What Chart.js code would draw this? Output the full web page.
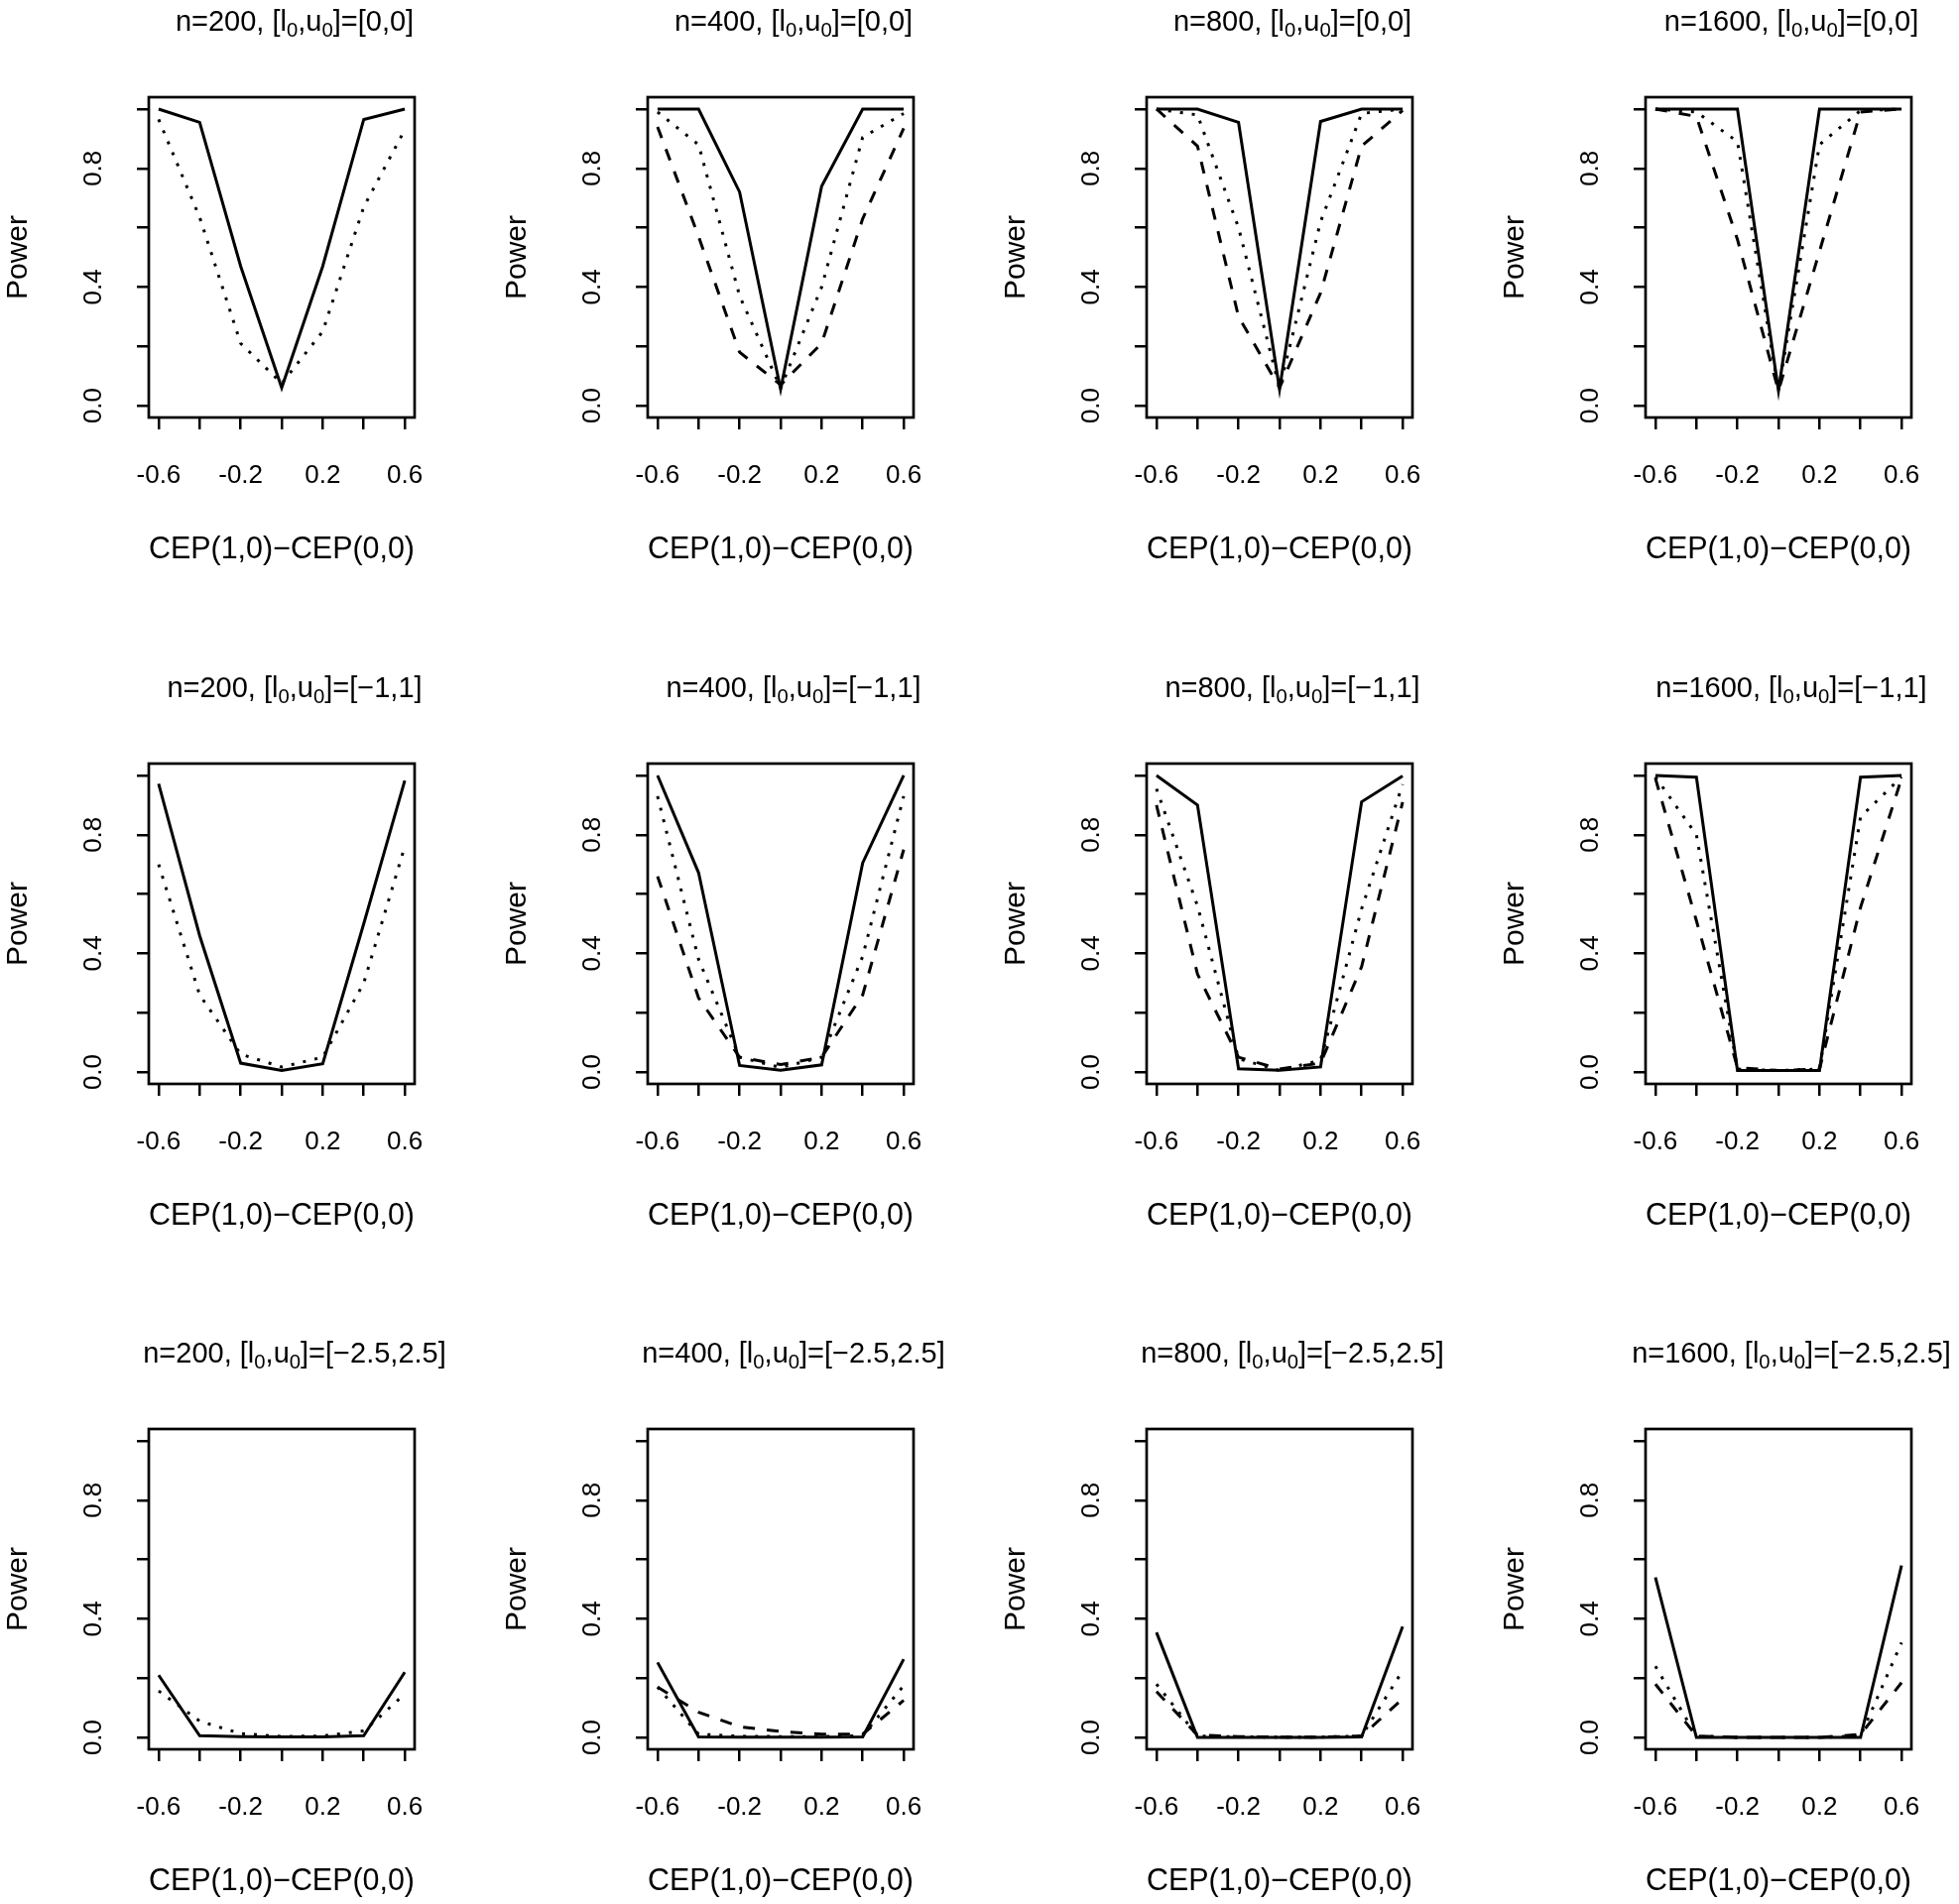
<!DOCTYPE html>
<html>
<head>
<meta charset="utf-8">
<script src="https://cdn.jsdelivr.net/npm/chart.js@4.4.1/dist/chart.umd.min.js"></script>
<style>
  html, body { margin:0; padding:0; background:#fff; }
  body { width:1975px; height:1920px; overflow:hidden; position:relative; font-family:"Liberation Sans", Arial, sans-serif; }
  .panel { position:absolute; width:503px; height:671px; }
  .panel canvas { position:absolute; left:0; top:0; }
  .ttl { position:absolute; transform:translateX(-50%); white-space:nowrap; font-size:29px; line-height:34px; color:#000; }
  .ttl sub { font-size:0.7em; vertical-align:-0.3em; line-height:0; }
</style>
</head>
<body>
<script>
// x positions of the simulated effects and axis ticks
const xValues = [-0.6, -0.4, -0.2, 0, 0.2, 0.4, 0.6];
const xTicks = [-0.6, -0.4, -0.2, 0, 0.2, 0.4, 0.6];
const xTickLabels = ['-0.6', '', '-0.2', '', '0.2', '', '0.6'];
const yTicks = [0, 0.2, 0.4, 0.6, 0.8, 1.0];
const yTickLabels = ['0.0', '', '0.4', '', '0.8', ''];

const sampleSizes = [200, 400, 800, 1600];
const boundLabels = ['[0,0]', '[\u22121,1]', '[\u22122.5,2.5]'];

// power curves, one array per n (200, 400, 800, 1600) for each row
const solidRow1 = [
  [1.0, 0.955, 0.47, 0.06, 0.47, 0.965, 1.0],
  [1.0, 1.0, 0.72, 0.055, 0.74, 1.0, 1.0],
  [1.0, 1.0, 0.955, 0.055, 0.958, 1.0, 1.0],
  [1.0, 1.0, 1.0, 0.05, 1.0, 1.0, 1.0]
];
const dottedRow1 = [
  [0.965, 0.635, 0.21, 0.075, 0.25, 0.67, 0.93],
  [0.99, 0.88, 0.37, 0.06, 0.40, 0.905, 0.985],
  [1.0, 0.98, 0.6, 0.06, 0.62, 0.985, 1.0],
  [1.0, 0.99, 0.89, 0.05, 0.88, 0.995, 1.0]
];
const dashedRow1 = [
  null,
  [0.94, 0.57, 0.18, 0.07, 0.21, 0.63, 0.935],
  [1.0, 0.875, 0.30, 0.06, 0.38, 0.875, 0.995],
  [1.0, 0.975, 0.56, 0.05, 0.52, 0.99, 1.0]
];

const solidRow2 = [
  [0.972, 0.46, 0.03, 0.005, 0.028, 0.5, 0.983],
  [1.0, 0.672, 0.022, 0.006, 0.024, 0.705, 1.0],
  [1.0, 0.9, 0.011, 0.006, 0.017, 0.911, 0.998],
  [1.0, 0.994, 0.005, 0.005, 0.005, 0.994, 1.0]
];
const dottedRow2 = [
  [0.70, 0.26, 0.06, 0.017, 0.05, 0.30, 0.76],
  [0.93, 0.38, 0.05, 0.015, 0.05, 0.39, 0.93],
  [0.955, 0.56, 0.045, 0.005, 0.04, 0.55, 0.97],
  [0.995, 0.80, 0.01, 0.005, 0.01, 0.86, 0.995]
];
const dashedRow2 = [
  null,
  [0.66, 0.25, 0.05, 0.025, 0.05, 0.26, 0.75],
  [0.9, 0.33, 0.05, 0.01, 0.03, 0.355, 0.91],
  [0.99, 0.51, 0.015, 0.005, 0.01, 0.555, 0.99]
];

const solidRow3 = [
  [0.21, 0.006, 0.003, 0.002, 0.002, 0.006, 0.22],
  [0.253, 0.002, 0.001, 0.001, 0.001, 0.002, 0.264],
  [0.354, 0.0, 0.0, 0.0, 0.0, 0.002, 0.374],
  [0.54, 0.0, 0.0, 0.0, 0.0, 0.0, 0.58]
];
const dottedRow3 = [
  [0.157, 0.055, 0.013, 0.003, 0.005, 0.022, 0.146],
  [0.17, 0.011, 0.004, 0.003, 0.003, 0.006, 0.175],
  [0.18, 0.005, 0.002, 0.001, 0.001, 0.005, 0.225],
  [0.24, 0.005, 0.0, 0.0, 0.0, 0.005, 0.32]
];
const dashedRow3 = [
  null,
  [0.17, 0.085, 0.036, 0.02, 0.011, 0.011, 0.125],
  [0.155, 0.008, 0.003, 0.001, 0.001, 0.005, 0.13],
  [0.18, 0.005, 0.0, 0.0, 0.0, 0.01, 0.185]
];

const solidRows = [solidRow1, solidRow2, solidRow3];
const dottedRows = [dottedRow1, dottedRow2, dottedRow3];
const dashedRows = [dashedRow1, dashedRow2, dashedRow3];

// panel geometry (px)
const PANEL_W = 503, PANEL_H = 671.5, CANVAS_H = 671;
const BOX_LEFT = 150, BOX_RIGHT = 418, BOX_TOP = 98, BOX_BOTTOM = 421;
const FONT = '"Liberation Sans", Arial, sans-serif';

// R-style frame round the plot region
const boxPlugin = {
  id: 'rbox',
  afterDraw(chart) {
    const a = chart.chartArea, ctx = chart.ctx;
    ctx.save();
    ctx.strokeStyle = '#000';
    ctx.lineWidth = 2.7;
    ctx.strokeRect(a.left, a.top, a.right - a.left, a.bottom - a.top);
    ctx.restore();
  }
};

const gridOpts = { drawOnChartArea:false, drawTicks:true, tickLength:12, color:'#000', lineWidth:2.5 };

function toPoints(arr) {
  return arr.map((v, i) => ({x: xValues[i], y: v}));
}

function makePanel(row, col) {
  const left = col * PANEL_W;
  const top = Math.round(row * PANEL_H);

  const wrap = document.createElement('div');
  wrap.className = 'panel';
  wrap.style.left = left + 'px';
  wrap.style.top = top + 'px';
  const canvas = document.createElement('canvas');
  canvas.width = PANEL_W;
  canvas.height = CANVAS_H;
  wrap.appendChild(canvas);
  document.body.appendChild(wrap);

  // main title sits a little right of the box centre, as in the original
  const ttl = document.createElement('div');
  ttl.className = 'ttl';
  ttl.style.left = (left + (BOX_LEFT + BOX_RIGHT) / 2 + 13) + 'px';
  ttl.style.top = (top + 4) + 'px';
  ttl.innerHTML = `n=${sampleSizes[col]}, [l<sub>0</sub>,u<sub>0</sub>]=${boundLabels[row]}`;
  document.body.appendChild(ttl);

  const series = [
    {data: solidRows[row][col], dash: []},
    {data: dottedRows[row][col], dash: [3, 9]},
    {data: dashedRows[row][col], dash: [12, 12]}
  ];
  const datasets = series.filter(s => s.data).map(s => ({
    data: toPoints(s.data),
    borderColor: '#000',
    borderWidth: 3,
    borderDash: s.dash,
    borderCapStyle: 'butt',
    borderJoinStyle: 'miter',
    pointRadius: 0,
    tension: 0,
    fill: false
  }));

  new Chart(canvas, {
    type: 'line',
    data: { datasets: datasets },
    options: {
      responsive: false,
      animation: false,
      devicePixelRatio: 1,
      layout: { padding: { left: 0, top: BOX_TOP, right: PANEL_W - BOX_RIGHT, bottom: 0 } },
      plugins: { legend: {display:false}, tooltip: {enabled:false}, title: {display:false} },
      scales: {
        x: {
          type: 'linear', min: -0.648, max: 0.648,
          afterBuildTicks: s => { s.ticks = xTicks.map(v => ({value: v})); },
          afterFit: s => { s.height = CANVAS_H - BOX_BOTTOM; },
          grid: gridOpts,
          border: { display:false },
          ticks: {
            callback: (v, i) => xTickLabels[i],
            autoSkip: false, maxRotation: 0, padding: 31,
            color: '#000', font: { family: FONT, size: 26 }
          },
          title: {
            display: true, text: 'CEP(1,0)\u2212CEP(0,0)', color: '#000',
            font: { family: FONT, size: 31 }, padding: { top: 0, bottom: 98 }
          }
        },
        y: {
          type: 'linear', min: -0.04, max: 1.04,
          afterBuildTicks: s => { s.ticks = yTicks.map(v => ({value: v})); },
          afterFit: s => { s.width = BOX_LEFT; },
          grid: gridOpts,
          border: { display:false },
          ticks: {
            callback: (v, i) => yTickLabels[i],
            autoSkip: false, minRotation: 90, maxRotation: 90, crossAlign: 'center', padding: 25,
            color: '#000', font: { family: FONT, size: 26 }
          },
          title: {
            display: true, text: 'Power', color: '#000',
            font: { family: FONT, size: 30 }, padding: { top: 1, bottom: 0 }
          }
        }
      }
    },
    plugins: [boxPlugin]
  });
}

for (let r = 0; r < 3; r++) {
  for (let c = 0; c < 4; c++) makePanel(r, c);
}
</script>
</body>
</html>
